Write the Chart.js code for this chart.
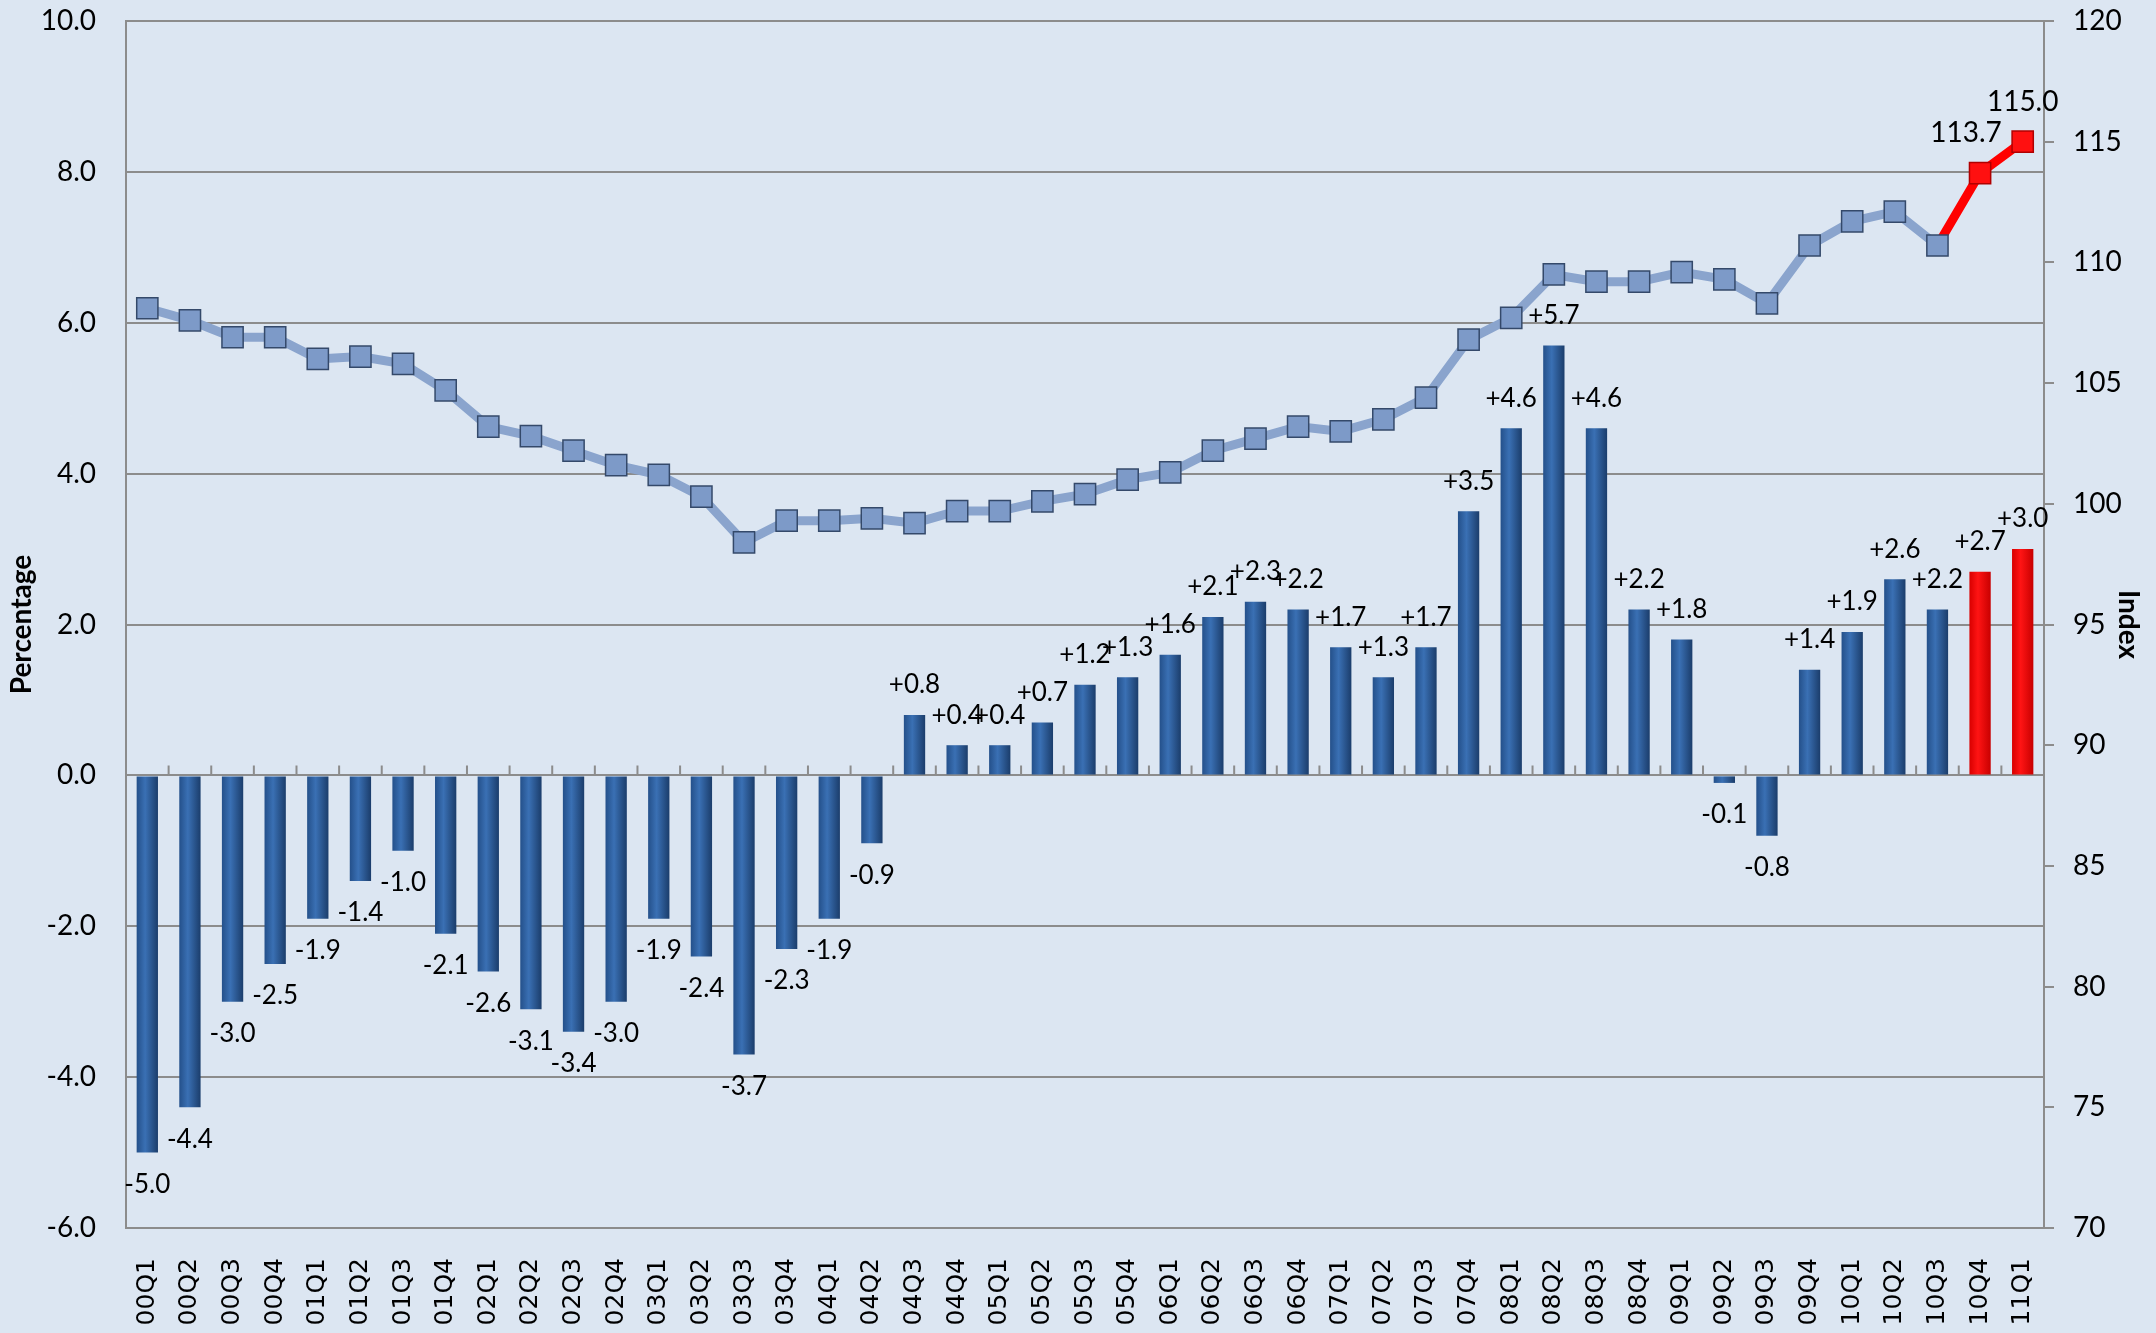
<!DOCTYPE html>
<html>
<head>
<meta charset="utf-8">
<script src="https://cdn.jsdelivr.net/npm/chart.js@4.4.1/dist/chart.umd.min.js"></script>
<style>
    html, body { margin: 0; padding: 0; background: #dce6f2; }
    #wrap { width: 2156px; height: 1333px; position: relative; }
</style>
</head>
<body>
<div id="wrap"><canvas id="chart"></canvas></div>
<script>
const quarters = [
    '00Q1', '00Q2', '00Q3', '00Q4', '01Q1', '01Q2', '01Q3', '01Q4',
    '02Q1', '02Q2', '02Q3', '02Q4', '03Q1', '03Q2', '03Q3', '03Q4',
    '04Q1', '04Q2', '04Q3', '04Q4', '05Q1', '05Q2', '05Q3', '05Q4',
    '06Q1', '06Q2', '06Q3', '06Q4', '07Q1', '07Q2', '07Q3', '07Q4',
    '08Q1', '08Q2', '08Q3', '08Q4', '09Q1', '09Q2', '09Q3', '09Q4',
    '10Q1', '10Q2', '10Q3', '10Q4', '11Q1'
];

// year-on-year change, %
const changePct = [
    -5.0, -4.4, -3.0, -2.5, -1.9, -1.4, -1.0, -2.1,
    -2.6, -3.1, -3.4, -3.0, -1.9, -2.4, -3.7, -2.3,
    -1.9, -0.9, 0.8, 0.4, 0.4, 0.7, 1.2, 1.3,
    1.6, 2.1, 2.3, 2.2, 1.7, 1.3, 1.7, 3.5,
    4.6, 5.7, 4.6, 2.2, 1.8, -0.1, -0.8, 1.4,
    1.9, 2.6, 2.2, 2.7, 3.0
];

// index level (right axis)
const indexLevel = [
    108.1, 107.6, 106.9, 106.9, 106.0, 106.1, 105.8, 104.7,
    103.2, 102.8, 102.2, 101.6, 101.2, 100.3, 98.4, 99.3,
    99.3, 99.4, 99.2, 99.7, 99.7, 100.1, 100.4, 101.0,
    101.3, 102.2, 102.7, 103.2, 103.0, 103.5, 104.4, 106.8,
    107.7, 109.5, 109.2, 109.2, 109.6, 109.3, 108.3, 110.7,
    111.7, 112.1, 110.7, 113.7, 115.0
];

const pctTicks = [-6, -4, -2, 0, 2, 4, 6, 8, 10];
const indexTicks = [70, 75, 80, 85, 90, 95, 100, 105, 110, 115, 120];

// first quarter drawn as a forecast (red)
const forecastStart = 43;

const tickFont = { family: 'Lato', size: 28 };

function barFill(c) {
    const red = c.dataIndex >= forecastStart;
    const xs = c.chart.scales.x;
    if (!xs || c.type !== 'data' || !xs.width) return red ? '#ff0000' : '#2f62a3';
    const cx = xs.getPixelForValue(c.dataIndex);
    const w = xs.width / quarters.length * 0.5;
    const g = c.chart.ctx.createLinearGradient(cx - w / 2, 0, cx + w / 2, 0);
    if (red) {
        g.addColorStop(0, '#d80000');
        g.addColorStop(0.4, '#ff1414');
        g.addColorStop(1, '#c80000');
    } else {
        g.addColorStop(0, '#24508a');
        g.addColorStop(0.4, '#3a70b4');
        g.addColorStop(1, '#1b3d6b');
    }
    return g;
}

// value labels and small category ticks on the zero line
const labelPlugin = {
    id: 'valueLabels',
    beforeDatasetsDraw(chart) {
        const ctx = chart.ctx;
        const xs = chart.scales.x;
        const y0 = chart.scales.y.getPixelForValue(0);
        const step = xs.width / quarters.length;
        ctx.save();
        ctx.strokeStyle = '#8c8c8c';
        ctx.lineWidth = 2;
        ctx.beginPath();
        for (let i = 0; i <= quarters.length; i++) {
            const x = xs.left + i * step;
            ctx.moveTo(x, y0);
            ctx.lineTo(x, y0 - 10);
        }
        ctx.stroke();
        ctx.restore();
    },
    afterDatasetsDraw(chart) {
        const ctx = chart.ctx;
        ctx.save();
        ctx.fillStyle = '#000';
        ctx.textAlign = 'center';
        ctx.textBaseline = 'middle';

        ctx.font = '26px Lato';
        const bars = chart.getDatasetMeta(1).data;
        bars.forEach((el, i) => {
            const v = changePct[i];
            const txt = v >= 0 ? '+' + v.toFixed(1) : v.toFixed(1);
            const y = v >= 0 ? el.y - 30 : el.y + 32;
            ctx.fillText(txt, el.x, y);
        });

        ctx.font = '28px Lato';
        const pts = chart.getDatasetMeta(0).data;
        for (let i = forecastStart; i < pts.length; i++) {
            ctx.fillText(indexLevel[i].toFixed(1), pts[i].x - (i === pts.length - 1 ? 0 : 14), pts[i].y - 40);
        }
        ctx.restore();
    }
};

const blueLine = '#8aa4cd';

new Chart(document.getElementById('chart'), {
    type: 'bar',
    data: {
        labels: quarters,
        datasets: [
            {
                type: 'line',
                label: 'Index',
                data: indexLevel,
                yAxisID: 'y2',
                order: 0,
                borderColor: blueLine,
                borderWidth: 9,
                tension: 0,
                segment: {
                    borderColor: c => c.p0DataIndex >= forecastStart - 1 ? '#ff0000' : blueLine
                },
                pointStyle: 'rect',
                pointRadius: 15,
                pointBorderWidth: 1.5,
                pointBackgroundColor: quarters.map((q, i) => i >= forecastStart ? '#ff1010' : '#7d9ac8'),
                pointBorderColor: quarters.map((q, i) => i >= forecastStart ? '#b00000' : '#34496a')
            },
            {
                type: 'bar',
                label: 'Change',
                data: changePct,
                yAxisID: 'y',
                order: 1,
                backgroundColor: barFill,
                borderWidth: 0,
                barPercentage: 0.5,
                categoryPercentage: 1
            }
        ]
    },
    options: {
        responsive: true,
        maintainAspectRatio: false,
        animation: false,
        layout: { padding: { top: 21, left: 0, right: 0, bottom: 0 } },
        plugins: {
            legend: { display: false },
            tooltip: { enabled: false }
        },
        scales: {
            x: {
                grid: { display: false, drawTicks: false },
                border: { display: false },
                ticks: {
                    autoSkip: false,
                    minRotation: 90,
                    maxRotation: 90,
                    padding: 30,
                    color: '#000',
                    font: { family: 'DejaVu Sans', size: 25 }
                },
                afterFit: s => { s.height = 105; s.paddingLeft = 0; s.paddingRight = 0; }
            },
            y: {
                position: 'left',
                min: -6,
                max: 10,
                afterBuildTicks: s => { s.ticks = pctTicks.map(v => ({ value: v })); },
                grid: { color: '#8c8c8c', lineWidth: 2, drawTicks: false },
                border: { color: '#8c8c8c', width: 2 },
                ticks: {
                    padding: 30,
                    color: '#000',
                    font: tickFont,
                    callback: v => v.toFixed(1)
                },
                title: {
                    display: true,
                    text: 'Percentage',
                    color: '#000',
                    font: { family: 'Lato', size: 28, weight: 'bold' },
                    padding: { top: 5, bottom: 0 }
                },
                afterFit: s => { s.width = 126; s.paddingTop = 0; s.paddingBottom = 0; }
            },
            y2: {
                position: 'right',
                min: 70,
                max: 120,
                afterBuildTicks: s => { s.ticks = indexTicks.map(v => ({ value: v })); },
                grid: { drawOnChartArea: false, color: '#8c8c8c', lineWidth: 2, tickLength: 10 },
                border: { color: '#8c8c8c', width: 2 },
                ticks: {
                    padding: 19,
                    color: '#000',
                    font: tickFont
                },
                title: {
                    display: true,
                    text: 'Index',
                    color: '#000',
                    font: { family: 'Lato', size: 28, weight: 'bold' },
                    padding: { top: 11, bottom: 0 }
                },
                afterFit: s => { s.width = 112; s.paddingTop = 0; s.paddingBottom = 0; }
            }
        }
    },
    plugins: [labelPlugin]
});
</script>
</body>
</html>
